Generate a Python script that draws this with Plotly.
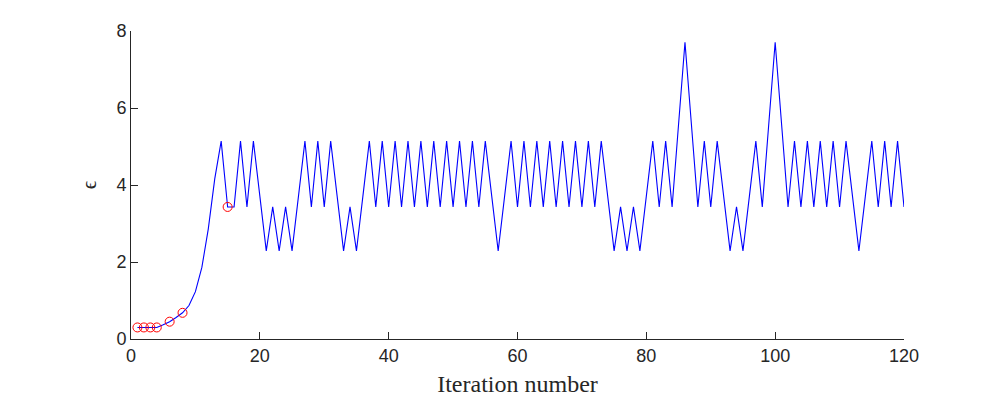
import plotly.graph_objects as go

# epsilon per iteration
iterations = list(range(1, 121))
epsilon = [
    0.30, 0.30, 0.30, 0.30, 0.37, 0.45, 0.56, 0.68, 0.87, 1.23,
    1.86, 2.86, 4.16, 5.14, 3.43, 3.43, 5.14, 3.43, 5.14, 3.71,
    2.29, 3.43, 2.29, 3.43, 2.29, 3.71, 5.14, 3.43, 5.14, 3.43,
    5.14, 3.71, 2.29, 3.43, 2.29, 3.71, 5.14, 3.43, 5.14, 3.43,
    5.14, 3.43, 5.14, 3.43, 5.14, 3.43, 5.14, 3.43, 5.14, 3.43,
    5.14, 3.43, 5.14, 3.43, 5.14, 3.71, 2.29, 3.71, 5.14, 3.43,
    5.14, 3.43, 5.14, 3.43, 5.14, 3.43, 5.14, 3.43, 5.14, 3.43,
    5.14, 3.43, 5.14, 3.71, 2.29, 3.43, 2.29, 3.43, 2.29, 3.71,
    5.14, 3.43, 5.14, 3.43, 5.57, 7.71, 5.57, 3.43, 5.14, 3.43,
    5.14, 3.71, 2.29, 3.43, 2.29, 3.71, 5.14, 3.43, 5.57, 7.71,
    5.57, 3.43, 5.14, 3.43, 5.14, 3.43, 5.14, 3.43, 5.14, 3.43,
    5.14, 3.71, 2.29, 3.71, 5.14, 3.43, 5.14, 3.43, 5.14, 3.43,
]

# highlighted iterations (red circles)
marked_iter = [1, 2, 3, 4, 6, 8, 15]
marked_eps = [0.30, 0.30, 0.30, 0.30, 0.45, 0.68, 3.43]

x_ticks = [0, 20, 40, 60, 80, 100, 120]
y_ticks = [0, 2, 4, 6, 8]

ink = "#262626"

fig = go.Figure()
fig.add_trace(go.Scatter(x=iterations, y=epsilon, mode="lines",
                         line=dict(color="#0000ff", width=1.1),
                         showlegend=False))
fig.add_trace(go.Scatter(x=marked_iter, y=marked_eps, mode="markers",
                         marker=dict(symbol="circle-open", size=9,
                                     color="#ff0000", line=dict(width=1)),
                         showlegend=False))

axis_common = dict(showline=True, linecolor=ink, linewidth=1,
                   ticks="inside", ticklen=7, tickcolor=ink,
                   showgrid=False, zeroline=False, mirror=False,
                   automargin=False,
                   tickfont=dict(family="Liberation Sans, Arial", size=18, color=ink))

# page body adds ~8px offset, so margins are shifted to compensate
fig.update_layout(
    width=1000, height=400,
    margin=dict(l=123, r=104, t=23, b=69),
    paper_bgcolor="white", plot_bgcolor="white",
    xaxis=dict(range=[0, 120], tickvals=x_ticks, **axis_common,
               title=dict(text="Iteration number", standoff=10,
                          font=dict(family="Liberation Serif, DejaVu Serif",
                                    size=24, color=ink))),
    yaxis=dict(range=[0, 8], tickvals=y_ticks, **axis_common,
               title=dict(text="ϵ", standoff=14,
                          font=dict(family="Liberation Serif, DejaVu Serif",
                                    size=21, color=ink))),
)

fig.write_html("out.html")
